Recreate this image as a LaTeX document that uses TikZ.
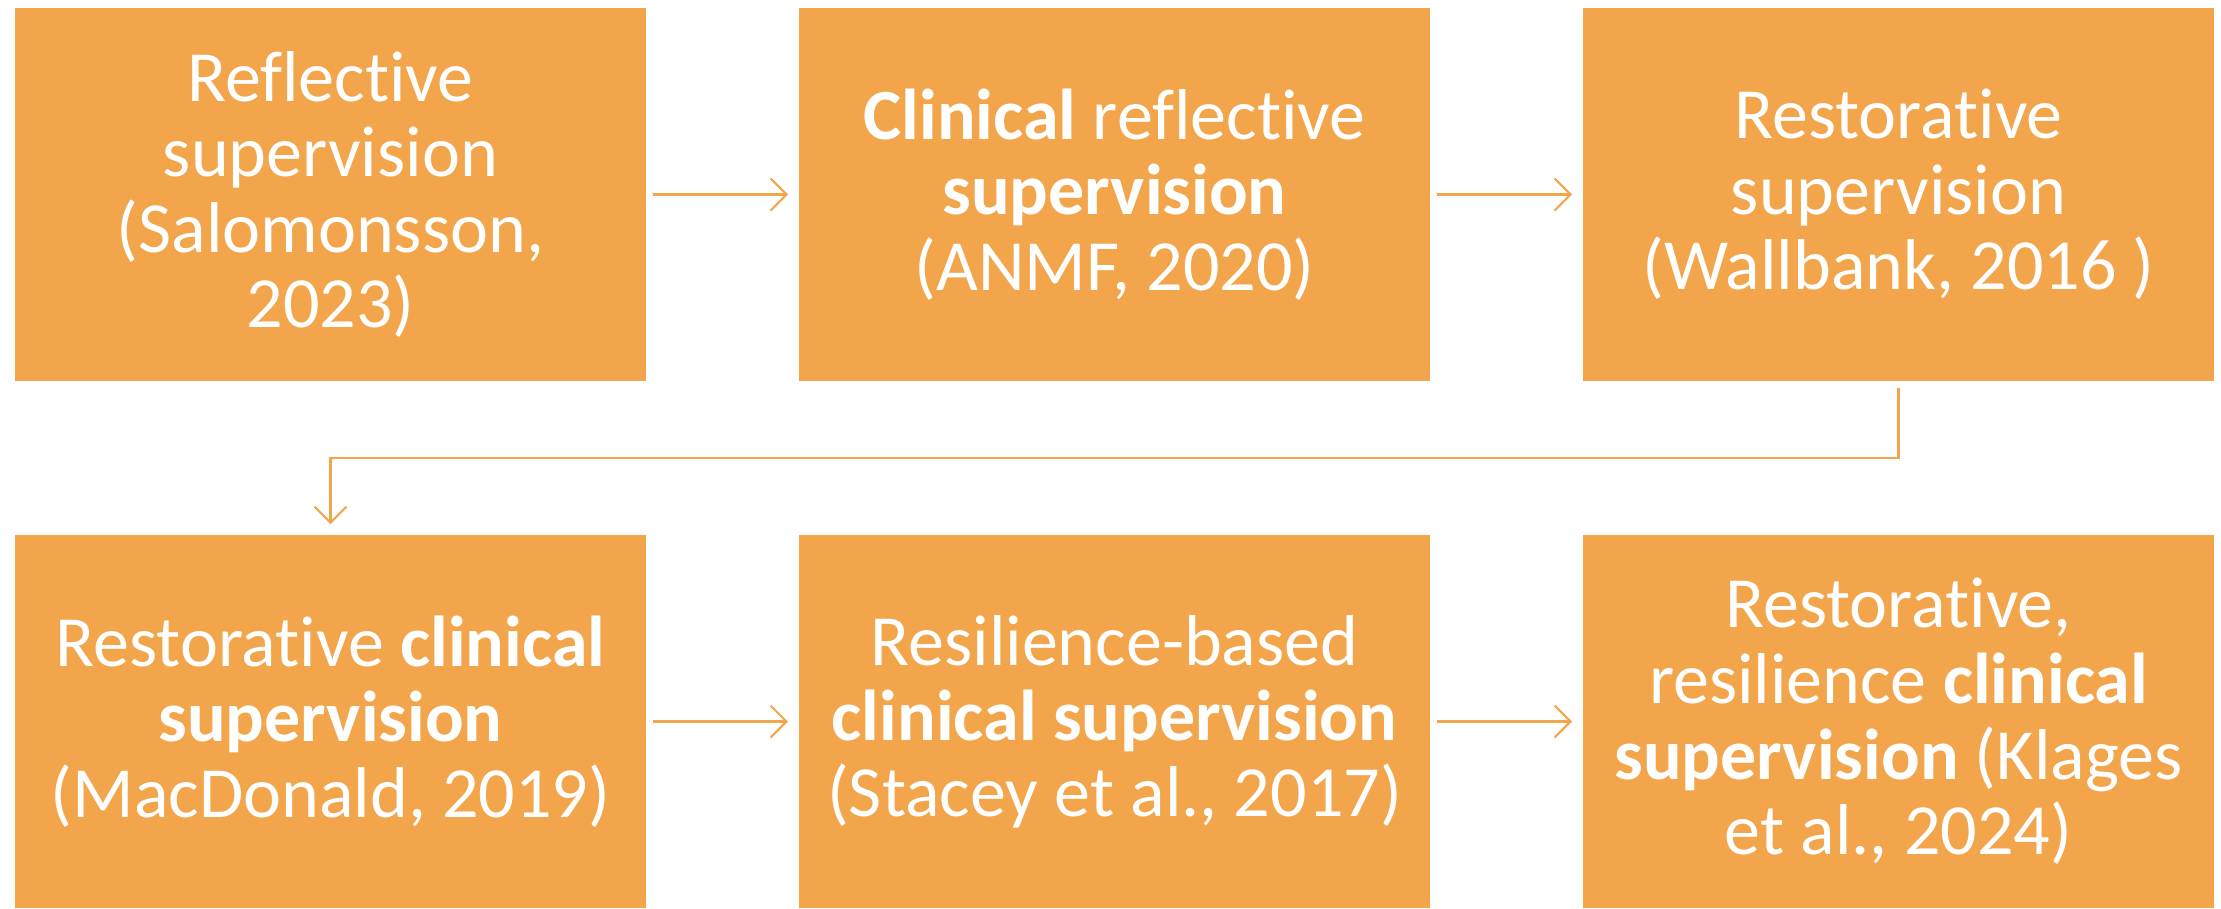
\documentclass[tikz,border=0pt]{standalone}
\usepackage{fontspec}
\setmainfont{Carlito}[Ligatures=NoCommon]
\usepackage{xcolor}
\usepackage{tikz}
\usetikzlibrary{positioning, arrows.meta}
\definecolor{Orange}{RGB}{242,165,74}
\tikzstyle{bx}=[%
      rectangle, draw=white, thin, fill=Orange, text=white, outer sep=0pt,
      minimum width=6.33cm, minimum height=3.75cm, inner sep=4pt, align=center,
      font=\fontsize{20.5}{21.5}\selectfont
]
\tikzstyle{arr}=[%
      draw=Orange, line width=0.6pt, -{Straight Barb[length=1.6mm,width=3.2mm]},
      shorten <=0.6mm, shorten >=1mm
]

\begin{document}
\begin{tikzpicture}[node distance=1.51cm]
    \useasboundingbox (0,0) rectangle (22.21,9.08);

    \node[bx] (refl) at (3.305,7.135) {Reflective\\supervision\\(Salomonsson,\\2023)};
    \node[bx] (clin) [right = of refl] {\textbf{Clinical} reflective\\\textbf{supervision}\\(ANMF, 2020)};
    \node[bx] (rest) [right = of clin] {Restorative\\supervision\\(Wallbank, 2016 )};
    \node[bx] (rcs)  at (3.305,1.865) {Restorative \textbf{clinical}\\\textbf{supervision}\\(MacDonald, 2019)};
    \node[bx] (res)  [right = of rcs] {Resilience-based\\\textbf{clinical supervision}\\(Stacey et al., 2017)};
    \node[bx] (rrcs) [right = of res] {Restorative,\\resilience \textbf{clinical}\\\textbf{supervision} (Klages\\et al., 2024)};

    \draw[arr] (refl) -- (clin);
    \draw[arr] (clin) -- (rest);
    \draw[arr] (rest.south) -- ++(0,-0.76) -| (rcs.north);
    \draw[arr] (rcs) -- (res);
    \draw[arr] (res) -- (rrcs);

\end{tikzpicture}
\end{document}
